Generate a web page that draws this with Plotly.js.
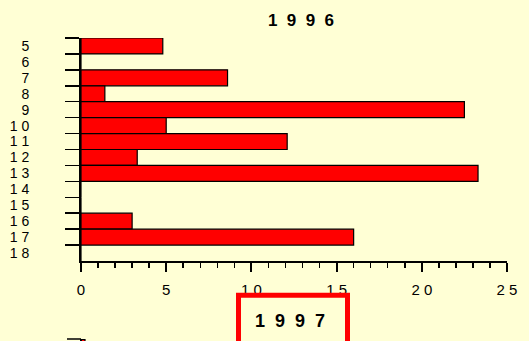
<!DOCTYPE html>
<html>
<head>
<meta charset="utf-8">
<script src="https://cdn.plot.ly/plotly-3.0.1.min.js"></script>
<style>
  html, body { margin: 0; padding: 0; background: #FFFFD5; overflow: hidden; }
  #chart { width: 529px; height: 341px; }
</style>
</head>
<body>
<div id="chart"></div>
<script>
// Categories (1996 chart), top to bottom
const categories = [5, 6, 7, 8, 9, 10, 11, 12, 13, 14, 15, 16, 17, 18];
// Values
const values1996 = [4.8, 0, 8.6, 1.4, 22.5, 5.0, 12.1, 3.3, 23.3, 0, 0, 3.0, 16.0, 0];
// Tick labels as shown (digits spaced)
const xTickText = {'10': '1 0', '15': '1 5', '20': '2 0', '25': '2 5'};
const yLabels = categories.map(c => String(c).split('').join(' '));
const title1996 = '1\u00A0\u00A09\u00A0\u00A09\u00A0\u00A06';
const title1997 = '1\u00A0\u00A09\u00A0\u00A09\u00A0\u00A07';

const BG = '#FFFFD5';
const FONT = 'Liberation Sans, Arial, sans-serif';

const trace = {
  type: 'bar',
  orientation: 'h',
  x: values1996,
  y: yLabels,
  marker: { color: '#FF0000', line: { color: '#000000', width: 1.2 } },
  hoverinfo: 'x+y'
};

// plot area pixel helpers (for decorations of the cut-off 1997 chart)
const L = 81, R = 22, T = 38, B = 80, W = 529, H = 341;
const pw = W - L - R, ph = H - T - B;
const px = v => (v - L) / pw;
const py = v => (H - B - v) / ph;

const layout = {
  width: W, height: H,
  paper_bgcolor: BG, plot_bgcolor: BG,
  margin: { l: L, r: R, t: T, b: B, pad: 0 },
  showlegend: false,
  bargap: 0,
  font: { family: FONT, color: '#000', size: 15 },
  title: {
    text: title1996,
    font: { family: FONT, size: 17, weight: 'bold', color: '#000' },
    x: 301 / W, xref: 'container', xanchor: 'center',
    y: 1 - 20 / H, yref: 'container', yanchor: 'middle'
  },
  xaxis: {
    range: [0, 25],
    tickmode: 'linear', tick0: 0, dtick: 5,
    labelalias: xTickText,
    showline: true, linecolor: '#000', linewidth: 2,
    ticks: 'outside', ticklen: 9, tickwidth: 2, tickcolor: '#000',
    minor: { tickmode: 'linear', tick0: 0, dtick: 1, ticks: 'outside', ticklen: 5, tickwidth: 1.5, tickcolor: '#000', showgrid: false },
    showgrid: false, zeroline: false,
    tickfont: { family: FONT, size: 15, color: '#000' },
    ticklabelstandoff: 5,
    fixedrange: true
  },
  yaxis: {
    type: 'category',
    range: [categories.length - 0.5, -0.5],
    tickmode: 'linear', tick0: 0, dtick: 1,
    showline: true, linecolor: '#000', linewidth: 2,
    ticks: 'outside', tickson: 'boundaries', ticklen: 14, tickwidth: 1.5, tickcolor: '#000',
    showgrid: false, zeroline: false,
    tickfont: { family: FONT, size: 14, color: '#000' },
    ticklabelstandoff: 47,
    fixedrange: true
  },
  shapes: [
    // red frame around the 1997 title
    { type: 'rect', xref: 'paper', yref: 'paper',
      x0: px(238.5), x1: px(347.5), y0: py(295.2), y1: py(400),
      line: { color: '#FF0000', width: 5 }, fillcolor: 'rgba(0,0,0,0)' },
    // top of the cut-off 1997 chart
    { type: 'line', xref: 'paper', yref: 'paper',
      x0: px(67), x1: px(81), y0: py(339), y1: py(339),
      line: { color: '#000', width: 1.5 } },
    { type: 'rect', xref: 'paper', yref: 'paper',
      x0: px(81), x1: px(85), y0: py(339.5), y1: py(360),
      line: { color: '#000', width: 1.2 }, fillcolor: '#FF0000' },
    { type: 'line', xref: 'paper', yref: 'paper',
      x0: px(81), x1: px(81), y0: py(339), y1: py(360),
      line: { color: '#000', width: 2 } }
  ],
  annotations: [
    { text: title1997, xref: 'paper', yref: 'paper',
      x: px(290), y: py(321), xanchor: 'center', yanchor: 'middle',
      showarrow: false,
      font: { family: FONT, size: 18, weight: 'bold', color: '#000' } },
    { text: '5', xref: 'paper', yref: 'paper',
      x: px(33), y: py(338), xanchor: 'right', yanchor: 'top',
      showarrow: false,
      font: { family: FONT, size: 14, color: '#000' } }
  ]
};

Plotly.newPlot('chart', [trace], layout, { displayModeBar: false, staticPlot: true });
</script>
</body>
</html>
